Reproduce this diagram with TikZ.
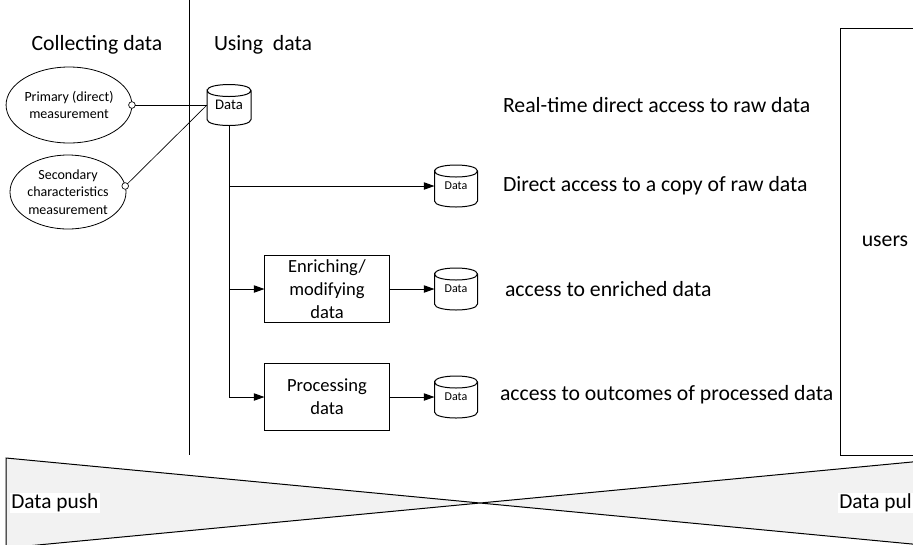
\documentclass[tikz,border=0pt]{standalone}
\usepackage{fontspec}
\setmainfont{Carlito}
\usetikzlibrary{arrows.meta,calc,shapes.geometric}
\definecolor{bandgray}{HTML}{F2F2F2}
\newcommand\cylout[2]{%
  \draw[line width=0.75pt]
    ($(#1.north west)+(0,#2)$) .. controls ($(#1.north west)+(0,-#2/3)$) and ($(#1.north east)+(0,-#2/3)$) .. ($(#1.north east)+(0,#2)$)
    .. controls ($(#1.north east)+(0,7*#2/3)$) and ($(#1.north west)+(0,7*#2/3)$) .. ($(#1.north west)+(0,#2)$)
    -- ($(#1.south west)+(0,-#2)$)
    .. controls ($(#1.south west)+(0,#2/3)$) and ($(#1.south east)+(0,#2/3)$) .. ($(#1.south east)+(0,-#2)$)
    -- ($(#1.north east)+(0,#2)$);
}
\begin{document}
\begin{tikzpicture}[x=0.75pt,y=-0.75pt,
  every node/.style={inner sep=0pt, outer sep=0pt},
  line/.style={line width=0.75pt},
  thin/.style={line width=0.5pt},
  arr/.style={line width=0.75pt, -{Triangle[length=8pt,width=5.5pt]}},
  head/.style={font=\fontsize{16.3}{19.5}\selectfont},
  lbl/.style={font=\fontsize{16.3}{19.5}\selectfont, anchor=west},
  ell/.style={draw, ellipse, line width=0.6pt, minimum width=87pt,
              align=center, font=\fontsize{10.5}{13.2}\selectfont},
  circ/.style={draw, circle, fill=white, line width=0.5pt, minimum size=5pt},
  cylb/.style={rectangle, minimum width=33pt, minimum height=30.75pt, font=\fontsize{11}{12}\selectfont},
  cyls/.style={rectangle, minimum width=32.25pt, minimum height=31.5pt, font=\fontsize{9}{11}\selectfont},
  procbox/.style={draw, line width=0.75pt, rectangle, minimum width=93.75pt, minimum height=50.25pt,
                  align=center, font=\fontsize{13.9}{17.5}\selectfont},
  bandtext/.style={fill=white, anchor=west, inner sep=1pt, font=\fontsize{16}{18}\selectfont}
]
\useasboundingbox (0,0) rectangle (913,544);
\clip (0,0) rectangle (913,544);

% separator
\draw[line] (189,0) coordinate (sepTop) -- (189,455) coordinate (sepBot);

% headers
\node[head] (hcol) at (97,45) {Collecting data};
\node[head, anchor=west] (huse) at (214,45) {Using\ \ data};

% measurement ellipses
\node[ell, minimum height=57pt] (e1) at (69,105) {Primary (direct)\\measurement};
\node[ell, minimum height=55.5pt] (e2) at (68,192) {Secondary\\characteristics\\measurement};
\node[circ] (c1) at (e1.east) {};
\node[circ] (c2) at (e2.6) {};

% data stores
\node[cylb] (d1) at (229,105) {Data};
\node[cyls] (d2) at (456,186) {Data};
\node[cyls] (d3) at (456,289) {Data};
\node[cyls] (d4) at (456,397) {Data};
\cylout{d1}{6}
\cylout{d2}{6}
\cylout{d3}{6}
\cylout{d4}{6}

\draw[thin] (c1) -- (d1.west);
\draw[thin] (c2) -- (d1.west);

% processing boxes
\node[procbox] (b1) at (327,289) {Enriching/\\modifying\\data};
\node[procbox] (b2) at (327,397) {Processing\\data};

% trunk and branches
\draw[arr] (d1.south) |- (b2.west);
\draw[arr] (d1.south |- d2.west) -- (d2.west);
\draw[arr] (d1.south |- b1.west) -- (b1.west);
\draw[arr] (b1.east) -- (d3.west);
\draw[arr] (b2.east) -- (d4.west);

% access labels
\node[lbl] (t1) at (503,105) {Real-time direct access to raw data};
\node[lbl] (t2) at (503,186) {Direct access to a copy of raw data};
\node[lbl] (t3) at (505,289) {access to enriched data};
\node[lbl] (t4) at (500,395) {access to outcomes of processed data};

% users
\node[draw, line width=0.75pt, rectangle, minimum width=67.5pt, minimum height=320.25pt,
      font=\fontsize{16.3}{19.5}\selectfont] (users) at (885,241.5) {users};

% push / pull band
\coordinate (cross) at (480,503);
\draw[line, fill=bandgray] (6,458) -- (cross) -- (6,548) -- cycle;
\draw[line, fill=bandgray] (954,458) -- (cross) -- (954,548) -- cycle;
\node[bandtext] (push) at (10,503) {Data push};
\node[bandtext] (pull) at (838,503) {Data pull};
\end{tikzpicture}
\end{document}
